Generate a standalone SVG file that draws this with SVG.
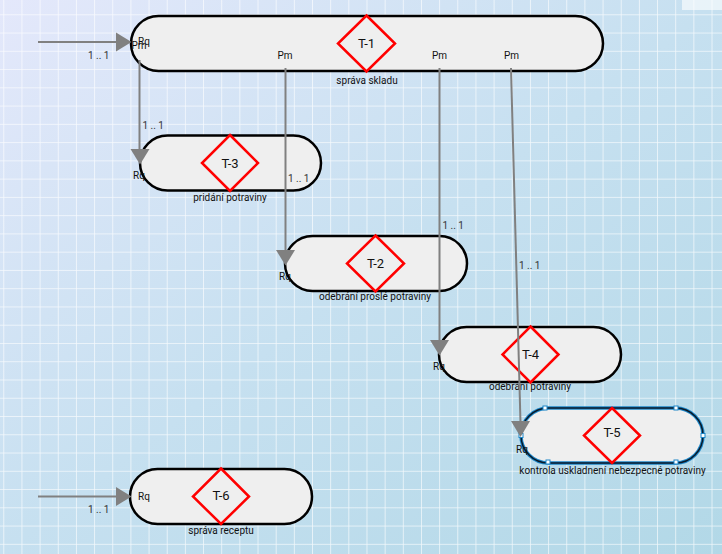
<svg xmlns="http://www.w3.org/2000/svg" width="722" height="554" viewBox="0 0 722 554">
<style>
.node{fill:#efefef;stroke:#000;stroke-width:2.5}
.dia{fill:#efefef;stroke:#ff0000;stroke-width:2.5}
.tid{font-family:Roboto,"Liberation Sans",sans-serif;font-size:13px;fill:#111;text-anchor:middle}
.lbl{font-family:Roboto,"Liberation Sans",sans-serif;font-size:10px;fill:#111;text-anchor:middle}
.sm{font-family:Roboto,"Liberation Sans",sans-serif;font-size:10px;fill:#111}
.card{font-family:Roboto,"Liberation Sans",sans-serif;font-size:10px;fill:#333}
.con{stroke:#808080;stroke-width:2;fill:none}
.ah{fill:#808080}
</style>
<defs>
<linearGradient id="bg" x1="0" y1="0" x2="1" y2="1">
<stop offset="0" stop-color="#e4e8fb"/>
<stop offset="0.5" stop-color="#c6e0f0"/>
<stop offset="1" stop-color="#b2d8e7"/>
</linearGradient>
<pattern id="grid" patternUnits="userSpaceOnUse" x="3.3" y="14.3" width="18.16" height="18.26">
<path d="M0 0V18.26M0 0H18.16" stroke="#ffffff" stroke-opacity="0.8" stroke-width="1.5" fill="none"/>
</pattern>
</defs>
<rect width="722" height="554" fill="url(#bg)"/>
<rect width="722" height="554" fill="url(#grid)"/>
<rect x="682" y="0" width="40" height="10" fill="#ffffff" fill-opacity="0.6"/>

<g id="T-1">
<rect class="node" x="131" y="16" width="472" height="55" rx="27.5"/>
<polygon class="dia" points="366.5,15.5 395,43.5 366.5,71.5 338,43.5"/>
<text class="tid" x="366.5" y="48">T-1</text>
<text class="lbl" x="367" y="83.5">správa skladu</text>
<text class="sm" x="138" y="45">Rq</text>
<text class="sm" x="131.5" y="49">Pm</text>
<text class="lbl" x="285" y="59">Pm</text>
<text class="lbl" x="439.5" y="59">Pm</text>
<text class="lbl" x="511.5" y="59">Pm</text>
</g>

<g id="T-3">
<rect class="node" x="140" y="135.5" width="181" height="55" rx="27.5"/>
<polygon class="dia" points="230,135 258,163 230,191 202,163"/>
<text class="tid" x="230" y="167.5">T-3</text>
<text class="lbl" x="230" y="200.5">pridání potraviny</text>
<text class="sm" x="133" y="179">Rq</text>
</g>

<g id="T-2">
<rect class="node" x="285" y="236" width="182" height="55" rx="27.5"/>
<polygon class="dia" points="375.5,235.5 404,263.5 375.5,291.5 347,263.5"/>
<text class="tid" x="375.5" y="268">T-2</text>
<text class="lbl" x="375" y="300">odebrání proslé potraviny</text>
<text class="sm" x="279" y="279.5">Rq</text>
</g>

<g id="T-4">
<rect class="node" x="439" y="327" width="182" height="55" rx="27.5"/>
<polygon class="dia" points="530.5,326.5 558.5,354.5 530.5,382.5 502.5,354.5"/>
<text class="tid" x="530.5" y="359">T-4</text>
<text class="lbl" x="530" y="390">odebrání potraviny</text>
<text class="sm" x="433" y="370">Rq</text>
</g>

<g id="T-5">
<rect x="521" y="408" width="182" height="55" rx="27.5" fill="#efefef" stroke="#1c86c8" stroke-width="3.5"/>
<rect x="521" y="408" width="182" height="55" rx="27.5" fill="none" stroke="#0a1a2a" stroke-width="1.5"/>
<polygon class="dia" points="612,408 640,435.5 612,463 584,435.5"/>
<text class="tid" x="612" y="437">T-5</text>
<text class="lbl" x="612.5" y="473.5">kontrola uskladnení nebezpecné potraviny</text>
<text class="sm" x="516" y="452.5">Rq</text>
<g fill="#ffffff" stroke="#1c86c8" stroke-width="1">
<rect x="543" y="406" width="4" height="4"/>
<rect x="674" y="406" width="4" height="4"/>
<rect x="519" y="433.5" width="4" height="4"/>
<rect x="701" y="433.5" width="4" height="4"/>
<rect x="546" y="460" width="4" height="4"/>
<rect x="674" y="460" width="4" height="4"/>
</g>
</g>

<g id="T-6">
<rect class="node" x="130" y="469" width="182" height="55" rx="27.5"/>
<polygon class="dia" points="221,468.5 249,496.5 221,524 193,496.5"/>
<text class="tid" x="221" y="500">T-6</text>
<text class="lbl" x="221" y="533.5">správa receptu</text>
<text class="sm" x="138" y="500">Rq</text>
</g>

<g id="connectors">
<line class="con" x1="38" y1="42" x2="118" y2="42"/>
<polygon class="ah" points="116,32.5 131.5,42 116,51.5"/>
<text class="card" x="88" y="58.5">1 .. 1</text>

<line class="con" x1="139.5" y1="60" x2="139.5" y2="151"/>
<polygon class="ah" points="130.5,149 149.5,149 140,164.5"/>
<text class="card" x="142.5" y="128.5">1 .. 1</text>

<line class="con" x1="285.5" y1="68" x2="285.5" y2="252"/>
<polygon class="ah" points="276,250 295,250 285.5,265.5"/>
<text class="card" x="288" y="182">1 .. 1</text>

<line class="con" x1="439.5" y1="68" x2="439.5" y2="342"/>
<polygon class="ah" points="430,340 449,340 439.5,355.5"/>
<text class="card" x="442.5" y="228.5">1 .. 1</text>

<line class="con" x1="511" y1="68" x2="520.5" y2="423"/>
<polygon class="ah" points="511,421 530,421 520.5,437"/>
<text class="card" x="519" y="268.5">1 .. 1</text>

<line class="con" x1="38" y1="496.5" x2="118" y2="496.5"/>
<polygon class="ah" points="116,487 131.5,496.5 116,506"/>
<text class="card" x="88" y="513">1 .. 1</text>
</g>
</svg>
